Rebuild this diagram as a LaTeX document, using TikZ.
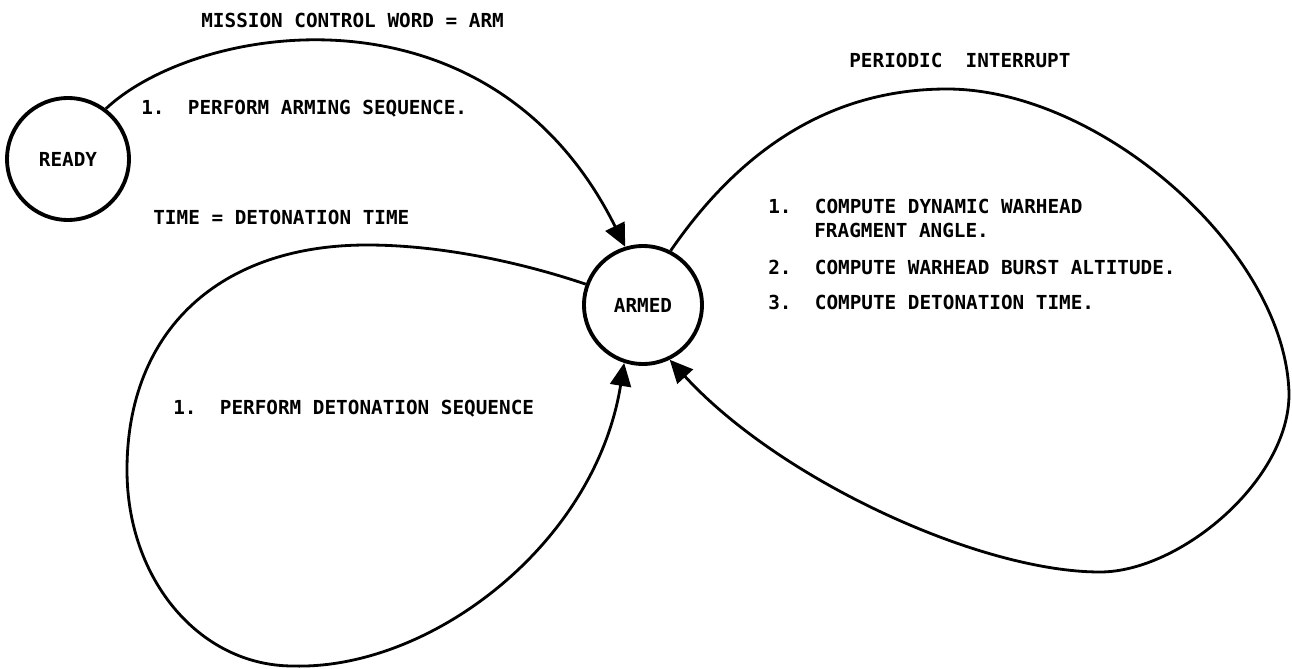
\documentclass[tikz,border=0pt]{standalone}
\usepackage{fontspec}
\newfontfamily\labelfont{DejaVu Sans Mono}
\usetikzlibrary{arrows.meta}
\begin{document}
\begin{tikzpicture}[x=0.02cm,y=-0.02cm,
  state/.style={circle,draw,line width=2.2pt,inner sep=0pt,
    font=\labelfont\bfseries\fontsize{11}{13}\selectfont},
  trans/.style={line width=1.6pt,-{Triangle[length=0.46cm,width=0.42cm]}},
  lbl/.style={anchor=base west,inner sep=0pt,
    font=\labelfont\bfseries\fontsize{11}{13}\selectfont}]
\useasboundingbox (0,0) rectangle (1292,669);

% states
\node[state,minimum size=2.44cm] (ready) at (68,159) {READY};
\node[state,minimum size=2.36cm] (armed) at (643,305) {ARMED};

% READY -> ARMED
\draw[trans] (ready.53) .. controls (197,23) and (490,-25) .. (armed.107);
\node[lbl] (armcond) at (201,28) {MISSION CONTROL WORD = ARM};
\node[lbl] (armact) at (141,114) {1.\ \ PERFORM ARMING SEQUENCE.};

% ARMED -> ARMED (detonation)
\draw[trans] (armed.160) .. controls (520,262) and (440,245) .. (367,245)
  .. controls (220,245) and (127,330) .. (127,470)
  .. controls (127,580) and (200,666) .. (293,666)
  .. controls (430,670) and (595,545) .. (armed.252);
\node[lbl] (detcond) at (153,224) {TIME = DETONATION TIME};
\node[lbl] (detact) at (173,414) {1.\ \ PERFORM DETONATION SEQUENCE};

% ARMED -> ARMED (periodic interrupt)
\draw[trans] (armed.63) .. controls (740,150) and (830,89) .. (947,89)
  .. controls (1100,89) and (1285,250) .. (1289,393)
  .. controls (1290,480) and (1180,572) .. (1100,572)
  .. controls (980,572) and (780,480) .. (armed.296);
\node[lbl] (intcond) at (849,68) {PERIODIC\ \ INTERRUPT};
\node[lbl] (int1) at (768,214) {1.\ \ COMPUTE DYNAMIC WARHEAD};
\node[lbl] (int1b) at (814,237) {FRAGMENT ANGLE.};
\node[lbl] (int2) at (768,274) {2.\ \ COMPUTE WARHEAD BURST ALTITUDE.};
\node[lbl] (int3) at (768,309) {3.\ \ COMPUTE DETONATION TIME.};
\end{tikzpicture}
\end{document}
